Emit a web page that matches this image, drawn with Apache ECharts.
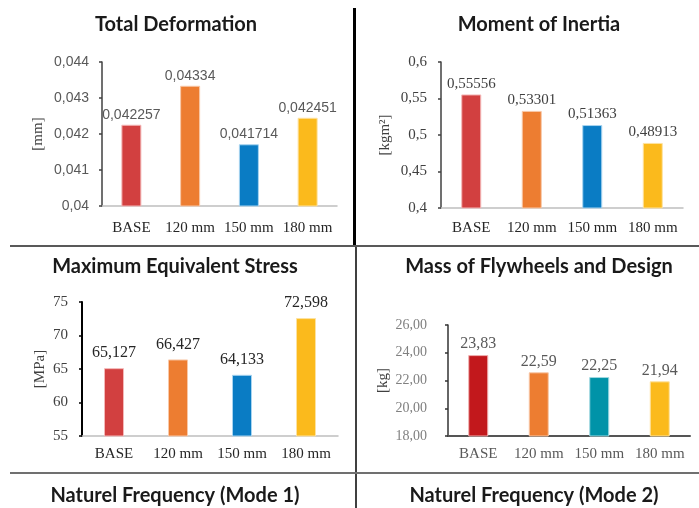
<!DOCTYPE html>
<html><head><meta charset="utf-8">
<script src="https://cdn.jsdelivr.net/npm/echarts@6/dist/echarts.min.js"></script>
<style>html,body{margin:0;padding:0;background:#fff}#c{width:699px;height:508px}</style>
</head><body><div id="c"></div><script>
// ---- data ----
const categories = ['BASE', '120 mm', '150 mm', '180 mm'];
const deformation = [0.042257, 0.04334, 0.041714, 0.042451];
const inertia = [0.55556, 0.53301, 0.51363, 0.48913];
const stress = [65.127, 66.427, 64.133, 72.598];
const mass = [23.83, 22.59, 22.25, 21.94];
const chartTitles = ['Total Deformation', 'Moment of Inertia', 'Maximum Equivalent Stress', 'Mass of Flywheels and Design'];
const bottomTitles = ['Naturel Frequency (Mode 1)', 'Naturel Frequency (Mode 2)'];
const axisNames = ['[mm]', '[kgm\u00B2]', '[MPa]', '[kg]'];

// ---- styles ----
const colsA = ['#D24040', '#ED7D31', '#0A7CC4', '#FBBA1C'];
const bordA = ['#F4B8B8', '#F8C8A8', '#A8D4F0', '#FDE2A0'];
const colsB = ['#C2181C', '#ED7D31', '#0093A8', '#FBBA1C'];
const bordB = ['#F0B0B0', '#F8C8A8', '#A0D8E0', '#FDE2A0'];
const SANS = 'Liberation Sans';
const SERIF = 'Liberation Serif';
const TITLE_FONT = 'Lato';

const comma = v => String(parseFloat(Number(v).toFixed(6))).replace('.', ',');
const comma2 = v => Number(v).toFixed(2).replace('.', ',');

const grids = [
  {left: 102, right: 362, top: 62, bottom: 302},
  {left: 441, right: 16, top: 62, bottom: 300},
  {left: 82, right: 361, top: 302, bottom: 72},
  {left: 448, right: 9, top: 325, bottom: 72}
];

const yCfg = [
  {min: 0.04, max: 0.044, interval: 0.001, fmt: comma, font: SANS, size: 14, color: '#595959', margin: 13, lineColor: '#404040', lineW: 1.5, nameGap: 56},
  {min: 0.4, max: 0.6, interval: 0.05, fmt: comma, font: SERIF, size: 15, color: '#404040', margin: 14, lineColor: '#404040', lineW: 1.5, nameGap: 48},
  {min: 55, max: 75, interval: 5, fmt: comma, font: SERIF, size: 15, color: '#404040', margin: 14, lineColor: '#000', lineW: 2, nameGap: 34},
  {min: 18, max: 26, interval: 2, fmt: comma2, font: SERIF, size: 14, color: '#808080', margin: 21, lineColor: '#333', lineW: 1.5, nameGap: 57}
];
const xCfg = [
  {margin: 15, color: '#262626', lineColor: '#BFBFBF', lineW: 1.5},
  {margin: 13, color: '#262626', lineColor: '#BFBFBF', lineW: 1.5},
  {margin: 11, color: '#262626', lineColor: '#BFBFBF', lineW: 1.5},
  {margin: 11, color: '#595959', lineColor: '#555', lineW: 2}
];
const labelCfg = [
  {font: SANS, size: 14, color: '#595959', dist: 3, fmt: p => comma(p.value)},
  {font: SERIF, size: 15, color: '#404040', dist: 3, fmt: p => comma(p.value)},
  {font: SERIF, size: 16, color: '#262626', dist: 7, fmt: p => comma(p.value)},
  {font: SERIF, size: 16, color: '#595959', dist: 3, fmt: p => comma2(p.value)}
];
const seriesData = [deformation, inertia, stress, mass];

const option = {
  animation: false,
  backgroundColor: '#fff',
  title: [
    {text: chartTitles[0], left: 176, top: 15},
    {text: chartTitles[1], left: 539, top: 15},
    {text: chartTitles[2], left: 175, top: 257},
    {text: chartTitles[3], left: 539, top: 257},
    {text: bottomTitles[0], left: 175, top: 486},
    {text: bottomTitles[1], left: 534, top: 486}
  ].map(t => ({text: t.text, left: t.left, top: t.top, textAlign: 'center', padding: 0,
    textStyle: {fontFamily: TITLE_FONT, fontWeight: 'bold', fontSize: 20, color: '#1a1a1a'}})),
  grid: grids,
  xAxis: grids.map((g, i) => ({
    type: 'category', gridIndex: i, data: categories,
    axisTick: {show: false},
    axisLine: {lineStyle: {color: xCfg[i].lineColor, width: xCfg[i].lineW}},
    axisLabel: {fontFamily: SERIF, fontSize: 15, color: xCfg[i].color, margin: xCfg[i].margin, interval: 0}
  })),
  yAxis: grids.map((g, i) => ({
    type: 'value', gridIndex: i, min: yCfg[i].min, max: yCfg[i].max, interval: yCfg[i].interval,
    name: axisNames[i], nameLocation: 'middle', nameRotate: 90, nameGap: yCfg[i].nameGap,
    nameTextStyle: {fontFamily: SERIF, fontSize: 15, color: '#404040'},
    splitLine: {show: false},
    axisLine: {show: true, lineStyle: {color: yCfg[i].lineColor, width: yCfg[i].lineW}},
    axisTick: {show: true, length: 3, lineStyle: {color: yCfg[i].lineColor, width: 1.5}},
    axisLabel: {fontFamily: yCfg[i].font, fontSize: yCfg[i].size, color: yCfg[i].color, margin: yCfg[i].margin, formatter: yCfg[i].fmt}
  })),
  series: seriesData.map((arr, i) => {
    const cols = i === 3 ? colsB : colsA;
    const bords = i === 3 ? bordB : bordA;
    return {
      type: 'bar', xAxisIndex: i, yAxisIndex: i, barWidth: 20,
      data: arr.map((v, k) => ({value: v, itemStyle: {color: cols[k], borderColor: bords[k], borderWidth: 1}})),
      label: {show: true, position: 'top', distance: labelCfg[i].dist, fontFamily: labelCfg[i].font,
        fontSize: labelCfg[i].size, color: labelCfg[i].color, formatter: labelCfg[i].fmt}
    };
  }),
  graphic: [
    {type: 'line', shape: {x1: 354.5, y1: 8, x2: 354.5, y2: 246}, style: {stroke: '#000', lineWidth: 3}},
    {type: 'line', shape: {x1: 356, y1: 246, x2: 356, y2: 508}, style: {stroke: '#000', lineWidth: 1.5}},
    {type: 'line', shape: {x1: 10, y1: 246, x2: 699, y2: 246}, style: {stroke: '#595959', lineWidth: 2}},
    {type: 'line', shape: {x1: 10, y1: 473, x2: 699, y2: 473}, style: {stroke: '#707070', lineWidth: 2}}
  ]
};
const chart = echarts.init(document.getElementById('c'), null, {renderer: 'canvas'});
chart.setOption(option);
</script></body></html>
